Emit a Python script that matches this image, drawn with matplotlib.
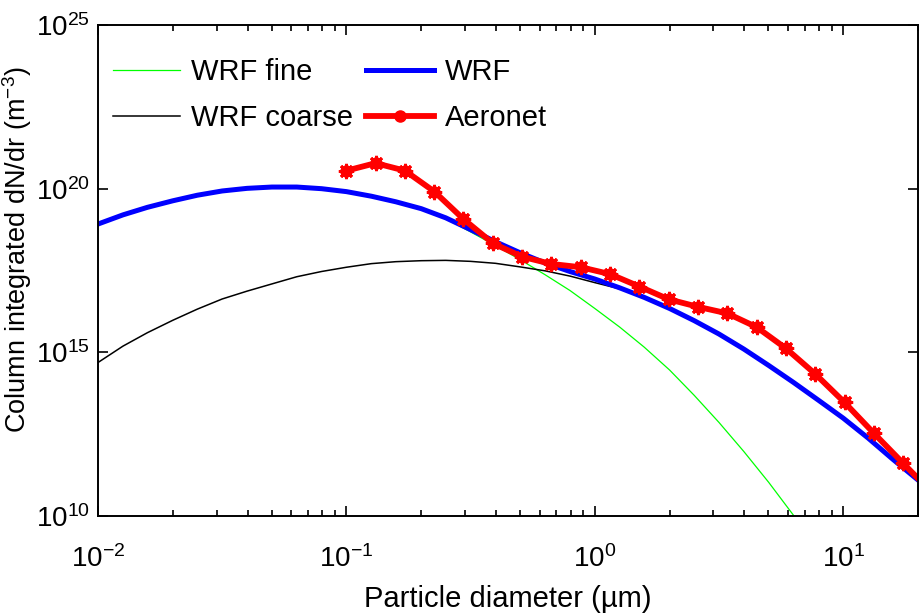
import numpy as np
import matplotlib
matplotlib.use("Agg")
import matplotlib.pyplot as plt
from matplotlib.ticker import NullLocator, FixedLocator, LogLocator

plt.rcParams["font.family"] = ["Liberation Sans", "DejaVu Sans"]
plt.rcParams["mathtext.fontset"] = "custom"
plt.rcParams["mathtext.rm"] = "Liberation Sans"
plt.rcParams["mathtext.it"] = "Liberation Sans:italic"
plt.rcParams["mathtext.default"] = "regular"

# WRF size grid (particle diameter, um)
diam_wrf = [0.01, 0.0126, 0.0158, 0.02, 0.0251, 0.0316, 0.0398, 0.0501, 0.0631, 0.0794,
            0.1, 0.126, 0.158, 0.2, 0.251, 0.316, 0.398, 0.501, 0.631, 0.794,
            1.0, 1.26, 1.58, 2.0, 2.51, 3.16, 3.98, 5.01, 6.31, 7.94,
            10.0, 12.6, 15.8, 20.0]
# log10 of column integrated dN/dr (m^-3)
wrf_fine_log = [18.92, 19.20, 19.43, 19.63, 19.80, 19.93, 20.01, 20.05, 20.05, 20.00,
                19.91, 19.77, 19.59, 19.37, 19.09, 18.68, 18.26, 17.83, 17.37, 16.89,
                16.34, 15.77, 15.16, 14.46, 13.69, 12.86, 11.97, 11.03, 10.02, 8.96]
wrf_coarse_log = [14.69, 15.19, 15.60, 15.98, 16.32, 16.63, 16.87, 17.09, 17.31, 17.47,
                  17.60, 17.71, 17.77, 17.80, 17.81, 17.78, 17.72, 17.61, 17.49, 17.33,
                  17.13, 16.94, 16.67, 16.33, 15.97, 15.56, 15.10, 14.60, 14.08, 13.54,
                  12.99, 12.38, 11.74, 11.10]
wrf_total_log = [18.92, 19.20, 19.43, 19.63, 19.80, 19.93, 20.01, 20.05, 20.05, 20.00,
                 19.91, 19.77, 19.60, 19.39, 19.11, 18.75, 18.38, 18.04, 17.73, 17.47,
                 17.24, 16.97, 16.68, 16.34, 15.97, 15.56, 15.10, 14.60, 14.08, 13.54,
                 12.99, 12.38, 11.74, 11.10]

# Aeronet retrieval
diam_aeronet = [0.1, 0.131, 0.172, 0.226, 0.296, 0.389, 0.510, 0.669, 0.878, 1.152,
                1.512, 1.984, 2.603, 3.416, 4.481, 5.880, 7.715, 10.12, 13.28, 17.43, 22.86]
aeronet_log = [20.55, 20.78, 20.55, 19.91, 19.07, 18.33, 17.92, 17.70, 17.60, 17.39,
               17.01, 16.62, 16.39, 16.19, 15.77, 15.12, 14.34, 13.47, 12.53, 11.61, 10.70]

fig = plt.figure(figsize=(9.23, 6.13), dpi=100)
ax = fig.add_axes([0.1062, 0.1582, 0.8884, 0.801])

ax.plot(diam_wrf[:len(wrf_fine_log)], 10.0 ** np.array(wrf_fine_log),
        color="#00ff00", lw=0.9, label="WRF fine")
ax.plot(diam_wrf, 10.0 ** np.array(wrf_coarse_log), color="black", lw=1.1,
        label="WRF coarse")
ax.plot(diam_wrf, 10.0 ** np.array(wrf_total_log), color="#0000ff", lw=3.6,
        label="WRF")
ax.plot(diam_aeronet, 10.0 ** np.array(aeronet_log), color="#ff0000", lw=4.2,
        marker="o", ms=8, mec="#ff0000", label="Aeronet")
# spiky star on top of each marker
ax.plot(diam_aeronet, 10.0 ** np.array(aeronet_log), ls="none", color="#ff0000",
        marker=(8, 2, 0), ms=11, mew=2)

ax.set_xscale("log")
ax.set_yscale("log")
ax.set_xlim(0.01, 20)
ax.set_ylim(1e10, 1e25)
ax.yaxis.set_major_locator(FixedLocator([1e10, 1e15, 1e20, 1e25]))
ax.yaxis.set_minor_locator(NullLocator())
ax.xaxis.set_major_locator(LogLocator(base=10))
ax.xaxis.set_minor_locator(LogLocator(base=10, subs=np.arange(2, 10)))

ax.tick_params(which="both", direction="in", top=True, right=True, width=1.2)
ax.tick_params(which="major", length=7)
ax.tick_params(which="minor", length=4)
ax.tick_params(axis="x", which="major", labelsize=20, pad=21)
ax.tick_params(axis="y", which="major", labelsize=20, pad=6)
for s in ax.spines.values():
    s.set_linewidth(1.4)

ax.set_xlabel("Particle diameter (\u00b5m)", fontsize=21, labelpad=9)
ax.set_ylabel("Column integrated dN/dr (m$^{-3}$)", fontsize=19.5)
ax.yaxis.set_label_coords(-0.078, 0.542)

ax.legend(loc="upper left", bbox_to_anchor=(0.0, 0.963), ncol=2, frameon=False,
          fontsize=21, handlelength=2.3, handletextpad=0.4, columnspacing=0.45,
          labelspacing=0.62, borderaxespad=0, borderpad=0.5)

fig.savefig("out.png", dpi=100)
